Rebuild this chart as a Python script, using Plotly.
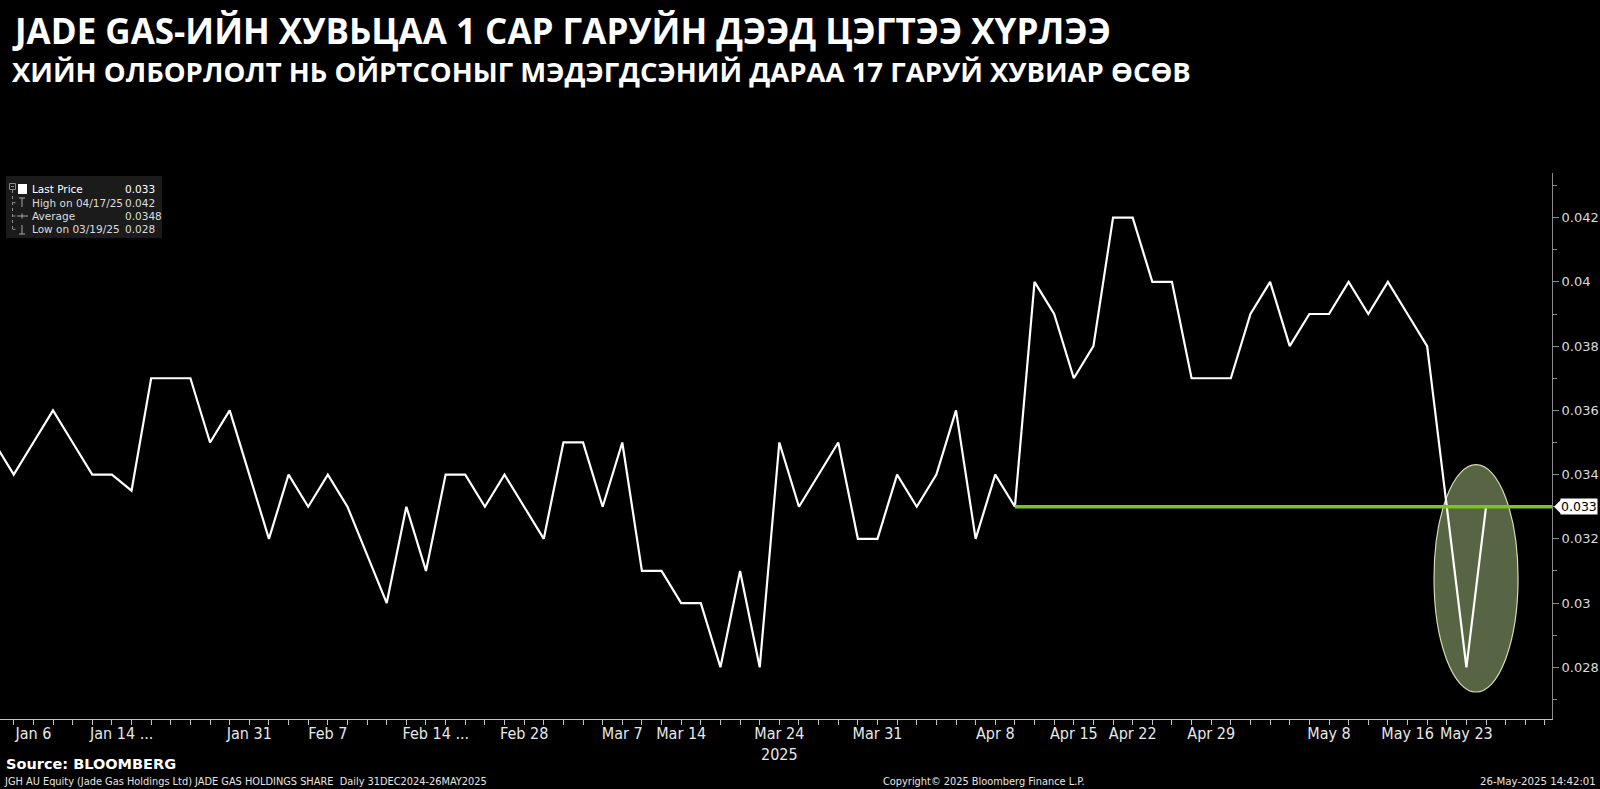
import plotly.graph_objects as go

# ---------------- data ----------------
# trading-day index (only days with trades); Jan 6 = 0
day_index = list(range(-2, 75))
last_price = [
    0.035, 0.034, 0.035, 0.036, 0.035, 0.034, 0.034, 0.0335, 0.037, 0.037,
    0.037, 0.035, 0.036, 0.034, 0.032, 0.034, 0.033, 0.034, 0.033, 0.0315,
    0.030, 0.033, 0.031, 0.034, 0.034, 0.033, 0.034, 0.033, 0.032, 0.035,
    0.035, 0.033, 0.035, 0.031, 0.031, 0.030, 0.030, 0.028, 0.031, 0.028,
    0.035, 0.033, 0.034, 0.035, 0.032, 0.032, 0.034, 0.033, 0.034, 0.036,
    0.032, 0.034, 0.033, 0.040, 0.039, 0.037, 0.038, 0.042, 0.042, 0.040,
    0.040, 0.037, 0.037, 0.037, 0.039, 0.040, 0.038, 0.039, 0.039, 0.040,
    0.039, 0.040, 0.039, 0.038, 0.033, 0.028, 0.033,
]
tick_index = [0, 4, 11, 15, 20, 25, 30, 33, 38, 43, 49, 53, 56, 60, 66, 70, 73]
tick_labels = ["Jan 6", "Jan 14 ...", "Jan 31", "Feb 7", "Feb 14 ...", "Feb 28",
               "Mar 7", "Mar 14", "Mar 24<br>2025", "Mar 31", "Apr 8", "Apr 15",
               "Apr 22", "Apr 29", "May 8", "May 16", "May 23"]
y_ticks = [0.028, 0.030, 0.032, 0.034, 0.036, 0.038, 0.040, 0.042]
ref_line_start = 50          # horizontal level line drawn from this day
high_date = "04/17/25"
low_date = "03/19/25"

title1 = "JADE GAS-ИЙН ХУВЬЦАА 1 САР ГАРУЙН ДЭЭД ЦЭГТЭЭ ХҮРЛЭЭ"
title2 = "ХИЙН ОЛБОРЛОЛТ НЬ ОЙРТСОНЫГ МЭДЭГДСЭНИЙ ДАРАА 17 ГАРУЙ ХУВИАР ӨСӨВ"

# ---------------- geometry ----------------
W, H = 1600, 789
ML, MR, MT, MB = 0, 48, 173, 70
PW, PH = W - ML - MR, H - MT - MB
X_RANGE = [-1.70, 77.36]
Y_RANGE = [0.02639, 0.04339]


def px(x):
    return (x - ML) / PW


def py(y):
    return (H - MB - y) / PH


last = last_price[-1]
high = max(last_price)
low = min(last_price)
avg = sum(last_price) / len(last_price)

fig = go.Figure()

fig.add_trace(go.Scatter(
    x=day_index, y=last_price, mode="lines",
    line=dict(color="white", width=2.2), hoverinfo="skip", showlegend=False))

fig.add_trace(go.Scatter(
    x=[ref_line_start, X_RANGE[1]], y=[last, last], mode="lines",
    line=dict(color="#7cc424", width=3.5), hoverinfo="skip", showlegend=False))

shapes = []
# highlight ellipse around the last dip
shapes.append(dict(type="circle", xref="x", yref="y", layer="below",
                   x0=71.35, x1=75.63, y0=0.02723, y1=0.03431,
                   fillcolor="rgba(145,168,114,0.6)",
                   line=dict(color="#d4dcae", width=1.2)))
# pointer of last price label
shapes.append(dict(type="path", xref="paper", yref="y", xsizemode="pixel",
                   ysizemode="pixel", xanchor=1, yanchor=last,
                   path="M 2,0 L 9,7 L 9,-7 Z", fillcolor="white",
                   line=dict(width=0)))


def prect(x0, y0, x1, y1, **kw):
    d = dict(type="rect", xref="paper", yref="paper",
             x0=px(x0), x1=px(x1), y0=py(y1), y1=py(y0))
    d.update(kw)
    return d


def pline(x0, y0, x1, y1, color="#8a8a8a", width=1, dash="solid"):
    return dict(type="line", xref="paper", yref="paper",
                x0=px(x0), x1=px(x1), y0=py(y0), y1=py(y1),
                line=dict(color=color, width=width, dash=dash))


# legend box
shapes.append(prect(6, 176, 162, 238, fillcolor="#1b1b1b", line=dict(width=0)))
shapes.append(prect(9.5, 183.5, 15.5, 189.5, line=dict(color="#8a8a8a", width=1)))
shapes.append(pline(11, 186.5, 14, 186.5))
shapes.append(pline(12.5, 190, 12.5, 229.5, dash="dot"))
for yy in (202.7, 216, 229.3):
    shapes.append(pline(12.5, yy, 17, yy, dash="dot"))
shapes.append(prect(18, 184, 27, 194, fillcolor="white", line=dict(width=0)))
shapes.append(pline(22, 198, 22, 207, color="#a8a8a8"))
shapes.append(pline(19, 198, 25, 198, color="#a8a8a8"))
shapes.append(pline(17, 216, 28, 216, color="#a8a8a8"))
shapes.append(pline(22, 213.5, 22, 218.5, color="#a8a8a8"))
shapes.append(pline(22, 225, 22, 234, color="#a8a8a8"))
shapes.append(pline(19, 234, 25, 234, color="#a8a8a8"))

ann = []


def ptext(x, y, text, size, color="white", family="DejaVu Sans", xanchor="left",
          bold=False):
    if bold:
        text = "<b>" + text + "</b>"
    ann.append(dict(xref="paper", yref="paper", x=px(x), y=py(y), text=text,
                    showarrow=False, xanchor=xanchor, yanchor="middle",
                    font=dict(size=size, color=color, family=family)))


ptext(10, 30, title1, 35, family="Open Sans", bold=True)
ptext(10, 71, title2, 27.5, family="Open Sans", bold=True)

leg_rows = [("Last Price", f"{last:g}", "white"),
            (f"High on {high_date}", f"{high:g}", "#dcdcdc"),
            ("Average", f"{avg:.4f}", "#dcdcdc"),
            (f"Low on {low_date}", f"{low:g}", "#dcdcdc")]
for (lab, val, col), yy in zip(leg_rows, (189.3, 202.7, 216, 229.3)):
    ptext(30, yy, lab, 10.5, color=col)
    ptext(123, yy, val, 10.5, color=col)

narrow = "Liberation Sans Narrow, DejaVu Sans Condensed, sans-serif"
ptext(4, 764, "Source: BLOOMBERG", 14.5, bold=True)
ptext(2, 781, "JGH AU Equity (Jade Gas Holdings Ltd) JADE GAS HOLDINGS SHARE&nbsp;&nbsp;Daily 31DEC2024-26MAY2025",
      10.9, color="#e6e6e6", family=narrow)
ptext(881, 781, "Copyright© 2025 Bloomberg Finance L.P.", 10.9, color="#e6e6e6", family=narrow)
ptext(1598, 781, "26-May-2025 14:42:01", 11.3, color="#e6e6e6", family=narrow,
      xanchor="right")

# last price label on the axis
ann.append(dict(xref="paper", yref="y", x=1, y=last, xanchor="left",
                yanchor="middle", xshift=8, text=f"{last:g}", showarrow=False,
                bgcolor="white", borderpad=0,
                font=dict(size=12.5, color="black", family="DejaVu Sans")))

tick_pos = [k + (0.5 if "..." in t else 0) for k, t in zip(tick_index, tick_labels)]

fig.update_layout(
    width=W, height=H,
    margin=dict(l=ML, r=MR, t=MT, b=MB, pad=0),
    paper_bgcolor="black", plot_bgcolor="black",
    shapes=shapes, annotations=ann, showlegend=False,
    xaxis=dict(range=X_RANGE, showgrid=False, zeroline=False,
               showline=True, linecolor="#c4c4c4", linewidth=1,
               tickvals=tick_pos, ticktext=tick_labels, ticks="",
               tickfont=dict(family=narrow, size=16, color="#e8e8e8"),
               minor=dict(tick0=0, dtick=1, ticks="outside", ticklen=5,
                          tickcolor="#c4c4c4", tickwidth=1, showgrid=False)),
    yaxis=dict(range=Y_RANGE, side="right", showgrid=False, zeroline=False,
               showline=True, linecolor="#8c8c8c", linewidth=1,
               tickvals=y_ticks, ticktext=[f"{v:g}" for v in y_ticks],
               ticks="outside", ticklen=6, tickcolor="#8c8c8c", tickwidth=1,
               tickfont=dict(family="DejaVu Sans", size=13, color="#dadada"),
               minor=dict(tick0=0, dtick=0.001, ticks="outside", ticklen=4,
                          tickcolor="#8c8c8c", tickwidth=1, showgrid=False)),
)

fig.write_html("out.html", config={"displayModeBar": False},
               post_script="document.body.style.margin='0';document.body.style.overflow='hidden';")
